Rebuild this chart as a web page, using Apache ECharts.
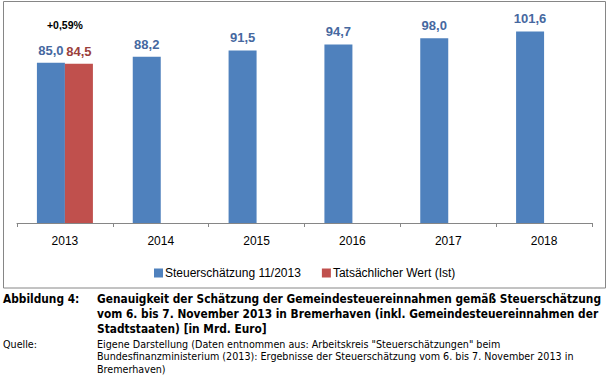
<!DOCTYPE html>
<html>
<head>
<meta charset="utf-8">
<script src="https://cdn.jsdelivr.net/npm/echarts@6/dist/echarts.min.js"></script>
<style>
  html, body { margin: 0; padding: 0; background: #fff; }
  #chart { width: 609px; height: 375px; }
</style>
</head>
<body>
<div id="chart"></div>
<script>
// Daten (Mrd. Euro)
const years = ['2013', '2014', '2015', '2016', '2017', '2018']
const estimate = [85.0, 88.2, 91.5, 94.7, 98.0, 101.6]   // Steuerschätzung 11/2013
const actual = [84.5, null, null, null, null, null]      // Tatsächlicher Wert (Ist)
const seriesNames = ['Steuerschätzung 11/2013', 'Tatsächlicher Wert (Ist)']

const captionLines = [
  'Genauigkeit der Schätzung der Gemeindesteuereinnahmen gemäß Steuerschätzung',
  'vom 6. bis 7. November 2013 in Bremerhaven (inkl. Gemeindesteuereinnahmen der',
  'Stadtstaaten) [in Mrd. Euro]'
]
const sourceLines = [
  'Eigene Darstellung (Daten entnommen aus: Arbeitskreis "Steuerschätzungen" beim',
  'Bundesfinanzministerium (2013): Ergebnisse der Steuerschätzung vom 6. bis 7. November 2013 in',
  'Bremerhaven)'
]

const fmt = v => v.toFixed(1).replace('.', ',')
// Abweichung Schätzung vs. Ist
const diffPct = '+' + ((estimate[0] - actual[0]) / actual[0] * 100).toFixed(2).replace('.', ',') + '%'

const chartFont = '"Liberation Sans", Arial, sans-serif'
const capFont = '"DejaVu Sans Condensed", "DejaVu Sans", sans-serif'
const srcFont = '"DejaVu Sans", Verdana, sans-serif'

const graphics = [
  {
    type: 'rect',
    shape: {x: 3.5, y: 1.5, width: 602, height: 286.5},
    style: {fill: 'none', stroke: '#868686', lineWidth: 1},
    silent: true
  },
  {
    type: 'text', left: 3, top: 293,
    style: {text: 'Abbildung 4:', font: 'bold 11.8px ' + capFont, fill: '#000'}
  }
]
captionLines.forEach((t, i) => {
  graphics.push({
    type: 'text', left: 97, top: 293 + i * 15,
    style: {text: t, font: 'bold 11.8px ' + capFont, fill: '#000'}
  })
})
graphics.push({
  type: 'text', left: 3, top: 339,
  style: {text: 'Quelle:', font: '9.6px ' + srcFont, fill: '#000'}
})
sourceLines.forEach((t, i) => {
  graphics.push({
    type: 'text', left: 97, top: 339 + i * 12.5,
    style: {text: t, font: '9.6px ' + srcFont, fill: '#000'}
  })
})

const option = {
  animation: false,
  textStyle: {fontFamily: chartFont},
  color: ['#4F81BD', '#C0504D'],
  grid: {left: 17, right: 17, top: 15.6, bottom: 152, containLabel: false},
  legend: {
    left: 149, top: 262,
    itemWidth: 9, itemHeight: 9, itemGap: 21,
    icon: 'rect',
    data: seriesNames,
    textStyle: {fontSize: 12, color: '#000', padding: [0, 0, 0, -3]}
  },
  xAxis: {
    type: 'category',
    data: years,
    axisLine: {lineStyle: {color: '#868686'}},
    axisTick: {show: true, length: 4, lineStyle: {color: '#868686'}},
    axisLabel: {color: '#000', fontSize: 12, margin: 12}
  },
  yAxis: {
    type: 'value', min: 0, max: 110, show: false,
    splitLine: {show: false}
  },
  series: [
    {
      name: seriesNames[0],
      type: 'bar',
      data: estimate,
      barWidth: 28,
      barGap: '0%',
      label: {
        show: true, position: 'top', distance: 6,
        color: '#46689f', fontSize: 13, fontWeight: 'bold',
        formatter: p => fmt(p.value)
      }
    },
    {
      name: seriesNames[1],
      type: 'bar',
      data: actual,
      barWidth: 28,
      label: {
        show: true, position: 'top', distance: 6,
        color: '#9b3f3c', fontSize: 13, fontWeight: 'bold',
        formatter: p => fmt(p.value)
      }
    }
  ],
  graphic: graphics
}

const myChart = echarts.init(document.getElementById('chart'), null, {renderer: 'svg'})
myChart.setOption(option)

// Prozentangabe über der Kategoriemitte 2013
const pt = myChart.convertToPixel({gridIndex: 0}, [years[0], estimate[0]])
graphics.push({
  type: 'text', x: pt[0], y: pt[1] - 38,
  style: {
    text: diffPct, font: 'bold 10.5px ' + chartFont, fill: '#000',
    align: 'center', verticalAlign: 'middle'
  }
})
myChart.setOption({graphic: graphics})
</script>
</body>
</html>
